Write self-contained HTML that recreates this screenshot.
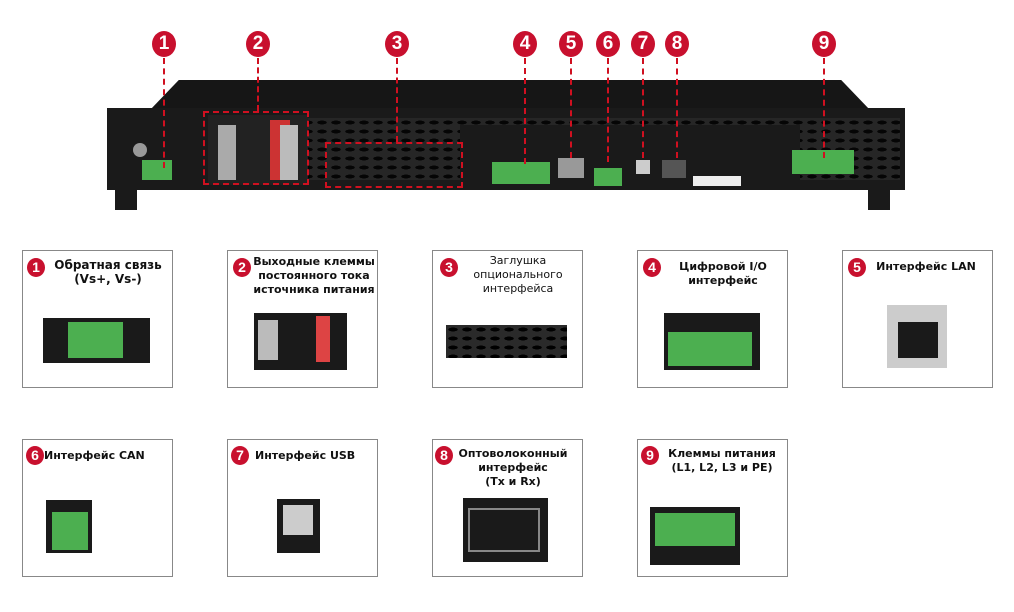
<!DOCTYPE html>
<html><head><meta charset="utf-8"><style>
body{margin:0;width:1014px;height:612px;background:#fff;position:relative;overflow:hidden;font-family:"DejaVu Sans","Liberation Sans",sans-serif}
.a{position:absolute}
.n{position:absolute;width:24px;height:26px;border-radius:50%;background:#c8102e;color:#fff;font:bold 19px "Liberation Sans",sans-serif;text-align:center;line-height:26px}
.d{position:absolute;border-left:2px dashed #d01020;width:0}
.card{position:absolute;border:1.5px solid #888;background:#fff}
.t{position:absolute;font-size:11.5px;font-weight:bold;color:#111;line-height:14px;text-align:center;white-space:nowrap}
.b{position:absolute;width:18px;height:19px;border-radius:50%;background:#c8102e;color:#fff;font:bold 14px "Liberation Sans",sans-serif;text-align:center;line-height:19px}
.g{background:#4caf50}
.dk{background:#1a1a1a}
.grill{background-image:radial-gradient(ellipse 5px 2px,#000 90%,transparent 100%);background-size:14px 9px;background-color:#2a2a2a}
</style></head><body>
<!-- device -->
<div class="a" style="left:150px;top:80px;width:720px;height:30px;background:#161616;clip-path:polygon(4% 0,96% 0,100% 100%,0 100%)"></div>
<div class="a dk" style="left:107px;top:108px;width:798px;height:82px"></div>
<div class="a grill" style="left:245px;top:118px;width:655px;height:62px;opacity:.8"></div>
<div class="a dk" style="left:460px;top:125px;width:340px;height:60px"></div>
<div class="a dk" style="left:115px;top:186px;width:22px;height:24px"></div>
<div class="a dk" style="left:868px;top:186px;width:22px;height:24px"></div>
<div class="a" style="left:133px;top:143px;width:14px;height:14px;border-radius:50%;background:#999"></div>
<div class="a g" style="left:142px;top:160px;width:30px;height:20px"></div>
<div class="a" style="left:208px;top:115px;width:100px;height:70px;background:#222"></div>
<div class="a" style="left:218px;top:125px;width:18px;height:55px;background:#aaa"></div>
<div class="a" style="left:270px;top:120px;width:20px;height:60px;background:#c33"></div>
<div class="a" style="left:280px;top:125px;width:18px;height:55px;background:#bbb"></div>
<div class="a g" style="left:492px;top:162px;width:58px;height:22px"></div>
<div class="a" style="left:558px;top:158px;width:26px;height:20px;background:#999"></div>
<div class="a g" style="left:594px;top:168px;width:28px;height:18px"></div>
<div class="a" style="left:636px;top:160px;width:14px;height:14px;background:#ccc"></div>
<div class="a" style="left:662px;top:160px;width:24px;height:18px;background:#555"></div>
<div class="a" style="left:693px;top:176px;width:48px;height:10px;background:#eee"></div>
<div class="a g" style="left:792px;top:150px;width:62px;height:24px"></div>
<div class="a" style="left:203px;top:111px;width:106px;height:74px;border:2px dashed #d01020;box-sizing:border-box"></div>
<div class="a" style="left:325px;top:142px;width:138px;height:46px;border:2px dashed #d01020;box-sizing:border-box"></div>
<!-- numbers and dashes -->
<div class="d" style="left:163px;top:58px;height:110px"></div>
<div class="d" style="left:257px;top:58px;height:53px"></div>
<div class="d" style="left:396px;top:58px;height:84px"></div>
<div class="d" style="left:524px;top:58px;height:106px"></div>
<div class="d" style="left:570px;top:58px;height:100px"></div>
<div class="d" style="left:607px;top:58px;height:104px"></div>
<div class="d" style="left:642px;top:58px;height:100px"></div>
<div class="d" style="left:676px;top:58px;height:100px"></div>
<div class="d" style="left:823px;top:58px;height:100px"></div>
<div class="n" style="left:152px;top:31px">1</div>
<div class="n" style="left:246px;top:31px">2</div>
<div class="n" style="left:385px;top:31px">3</div>
<div class="n" style="left:513px;top:31px">4</div>
<div class="n" style="left:559px;top:31px">5</div>
<div class="n" style="left:596px;top:31px">6</div>
<div class="n" style="left:631px;top:31px">7</div>
<div class="n" style="left:665px;top:31px">8</div>
<div class="n" style="left:812px;top:31px">9</div>
<!-- row 1 -->
<div class="card" style="left:22px;top:250px;width:149px;height:136px"></div>
<div class="b" style="left:27px;top:258px">1</div><div class="t" style="left:47px;top:258px;width:122px;font-size:12px">Обратная связь<br>(Vs+, Vs-)</div>
<div class="a dk" style="left:43px;top:318px;width:107px;height:45px"></div><div class="a g" style="left:68px;top:322px;width:55px;height:36px"></div>
<div class="card" style="left:227px;top:250px;width:149px;height:136px"></div>
<div class="b" style="left:233px;top:258px">2</div><div class="t" style="left:252px;top:255px;width:124px;font-size:11px">Выходные клеммы<br>постоянного тока<br>источника питания</div>
<div class="a dk" style="left:254px;top:313px;width:93px;height:57px"></div><div class="a" style="left:258px;top:320px;width:20px;height:40px;background:#bbb"></div><div class="a" style="left:316px;top:316px;width:14px;height:46px;background:#d44"></div>
<div class="card" style="left:432px;top:250px;width:149px;height:136px"></div>
<div class="b" style="left:440px;top:258px">3</div><div class="t" style="left:462px;top:254px;width:112px;font-size:11px;font-weight:normal">Заглушка<br>опционального<br>интерфейса</div>
<div class="a grill" style="left:446px;top:325px;width:121px;height:33px"></div>
<div class="card" style="left:637px;top:250px;width:149px;height:136px"></div>
<div class="b" style="left:643px;top:258px">4</div><div class="t" style="left:662px;top:260px;width:122px;font-size:11px">Цифровой I/O<br>интерфейс</div>
<div class="a dk" style="left:664px;top:313px;width:96px;height:57px"></div><div class="a g" style="left:668px;top:332px;width:84px;height:34px"></div>
<div class="card" style="left:842px;top:250px;width:149px;height:136px"></div>
<div class="b" style="left:848px;top:258px">5</div><div class="t" style="left:866px;top:260px;width:120px;font-size:11px">Интерфейс LAN</div>
<div class="a" style="left:887px;top:305px;width:60px;height:63px;background:#ccc"></div><div class="a dk" style="left:898px;top:322px;width:40px;height:36px"></div>
<!-- row 2 -->
<div class="card" style="left:22px;top:439px;width:149px;height:136px"></div>
<div class="b" style="left:26px;top:446px">6</div><div class="t" style="left:44px;top:449px;font-size:11px">Интерфейс CAN</div>
<div class="a dk" style="left:46px;top:500px;width:46px;height:53px"></div><div class="a g" style="left:52px;top:512px;width:36px;height:38px"></div>
<div class="card" style="left:227px;top:439px;width:149px;height:136px"></div>
<div class="b" style="left:231px;top:446px">7</div><div class="t" style="left:255px;top:449px;font-size:11px">Интерфейс USB</div>
<div class="a dk" style="left:277px;top:499px;width:43px;height:54px"></div><div class="a" style="left:283px;top:505px;width:30px;height:30px;background:#ccc"></div>
<div class="card" style="left:432px;top:439px;width:149px;height:136px"></div>
<div class="b" style="left:435px;top:446px">8</div><div class="t" style="left:454px;top:447px;width:118px;font-size:11px">Оптоволоконный<br>интерфейс<br>(Tx и Rx)</div>
<div class="a dk" style="left:463px;top:498px;width:85px;height:64px"></div><div class="a" style="left:468px;top:508px;width:72px;height:44px;border:2px solid #888;box-sizing:border-box"></div>
<div class="card" style="left:637px;top:439px;width:149px;height:136px"></div>
<div class="b" style="left:641px;top:446px">9</div><div class="t" style="left:660px;top:447px;width:124px;font-size:11px">Клеммы питания<br>(L1, L2, L3 и PE)</div>
<div class="a dk" style="left:650px;top:507px;width:90px;height:58px"></div><div class="a g" style="left:655px;top:513px;width:80px;height:33px"></div>
</body></html>
